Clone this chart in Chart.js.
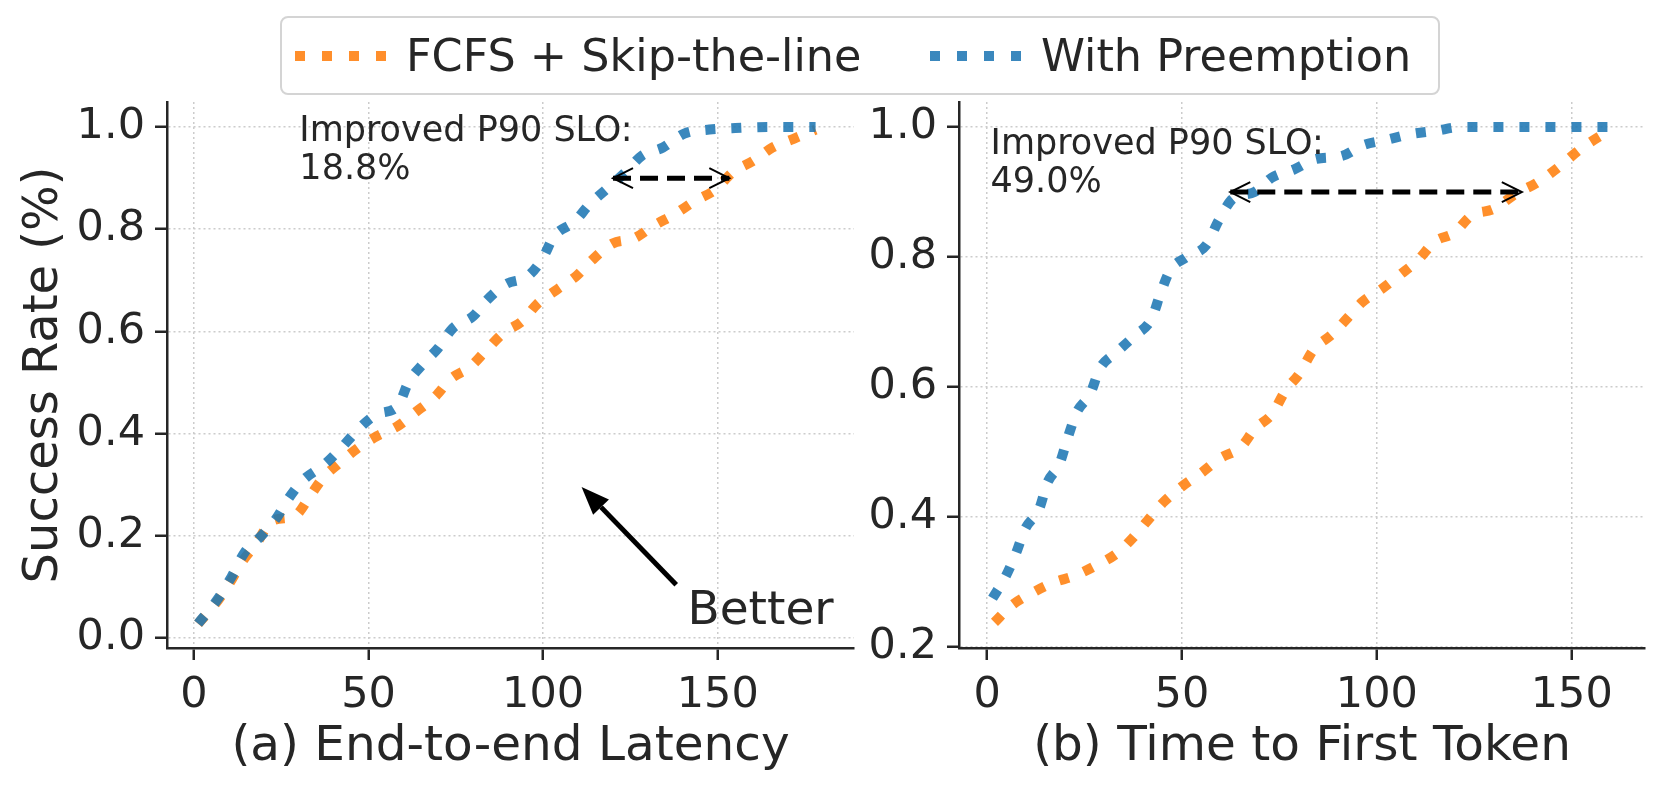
<!DOCTYPE html>
<html>
<head>
<meta charset="utf-8">
<script src="https://cdn.jsdelivr.net/npm/chart.js@4.4.1/dist/chart.umd.min.js"></script>
<style>
  body { margin: 0; width: 1662px; height: 789px; background: #fff; position: relative; overflow: hidden;
         font-family: "DejaVu Sans", sans-serif; color: #262626; }
  #c1 { position: absolute; left: 0; top: 0; }
  #c2 { position: absolute; left: 860px; top: 0; }
  #legend { position: absolute; left: 280px; top: 16px; width: 1160px; height: 79px; box-sizing: border-box;
            border: 2px solid #d4d4d4; border-radius: 8px; background: #fff; }
  .item { position: absolute; top: 0; height: 100%; display: flex; align-items: center; font-size: 44.5px; white-space: nowrap; }
  .swatch { width: 91px; height: 10px; margin-right: 20px; }
</style>
</head>
<body>
<canvas id="c1" width="860" height="789"></canvas>
<canvas id="c2" width="802" height="789"></canvas>
<div id="legend"></div>

<script>
// ================= DATA =================
const seriesNames = ["FCFS + Skip-the-line", "With Preemption"];
const seriesColors = ["rgba(255,127,14,0.88)", "rgba(31,119,180,0.88)"];

// (a) End-to-end latency
const e2eFcfsX = [1.2, 6.6, 10.2, 13.9, 18, 22.3, 28.9, 33.1, 36.8, 41.6, 47, 52.4, 58.4, 63.3, 69.3, 73.5, 79, 83.7, 88.6, 94, 98.2, 104.2, 109.6, 113.9, 119.9, 126, 131.9, 137.3, 143.4, 149.4, 154.2, 160.2, 165.7, 171.7, 178];
const e2eFcfsY = [0.028, 0.071, 0.107, 0.15, 0.186, 0.229, 0.239, 0.276, 0.312, 0.342, 0.372, 0.395, 0.415, 0.441, 0.474, 0.507, 0.53, 0.563, 0.597, 0.62, 0.653, 0.683, 0.709, 0.739, 0.772, 0.782, 0.808, 0.828, 0.855, 0.878, 0.911, 0.934, 0.96, 0.977, 0.995];
const e2ePreemptX = [1.2, 6.6, 10.8, 14.5, 19.3, 23.5, 27, 31.3, 37.3, 42.2, 47, 52.4, 58.4, 61.4, 65.7, 69.9, 74.1, 80, 83.7, 89.2, 95.8, 100, 103, 109, 113.2, 118.7, 123.5, 128.3, 134.3, 140.4, 147.6, 155, 165, 178];
const e2ePreemptY = [0.028, 0.074, 0.12, 0.167, 0.2, 0.233, 0.272, 0.309, 0.339, 0.372, 0.408, 0.438, 0.454, 0.5, 0.537, 0.567, 0.606, 0.63, 0.66, 0.692, 0.709, 0.745, 0.785, 0.815, 0.848, 0.882, 0.911, 0.944, 0.96, 0.987, 0.995, 0.998, 1.0, 1.0];

// (b) Time to first token
const ttftFcfsX = [1.9, 6.3, 11.5, 17, 22.6, 27.8, 33.3, 37.4, 41.1, 45.3, 50, 55, 59.7, 65.2, 68.6, 73.2, 76.4, 80.3, 83.7, 88.5, 92.6, 96.3, 101.5, 106, 110.5, 114.9, 119.8, 124.3, 130, 135.8, 141, 147, 152, 157, 160];
const ttftFcfsY = [0.238, 0.264, 0.283, 0.299, 0.31, 0.325, 0.344, 0.368, 0.394, 0.423, 0.447, 0.468, 0.49, 0.508, 0.535, 0.559, 0.593, 0.622, 0.657, 0.681, 0.707, 0.731, 0.752, 0.773, 0.795, 0.824, 0.837, 0.864, 0.874, 0.898, 0.914, 0.94, 0.965, 0.985, 0.995];
const ttftPreemptX = [1.4, 4.8, 7.4, 9.7, 13.4, 15.5, 18.6, 20.7, 23, 26.5, 28.9, 33.3, 37.7, 42.2, 44.5, 46.9, 51, 56.3, 59.4, 63.1, 68.6, 73, 78.8, 84.5, 90.8, 96.5, 102.3, 108.6, 114.9, 121.7, 130, 140, 150, 160];
const ttftPreemptY = [0.275, 0.309, 0.344, 0.381, 0.413, 0.453, 0.482, 0.522, 0.561, 0.59, 0.628, 0.654, 0.678, 0.705, 0.744, 0.779, 0.799, 0.819, 0.856, 0.89, 0.90, 0.922, 0.935, 0.951, 0.955, 0.972, 0.98, 0.989, 0.994, 1.0, 1.0, 1.0, 1.0, 1.0];

// ticks
const xTicks = [0, 50, 100, 150];
const yTicksLeft = [0, 0.2, 0.4, 0.6, 0.8, 1.0];
const yTicksRight = [0.2, 0.4, 0.6, 0.8, 1.0];

// annotations (data units)
const leftNote = { lines: ["Improved P90 SLO:", "18.8%"], x: 30.2, y: 0.973 };
const rightNote = { lines: ["Improved P90 SLO:", "49.0%"], x: 0.9, y: 0.959 };
const leftSpan = { y: 0.9, from: 120, to: 153.3 };
const rightSpan = { y: 0.9, from: 62.4, to: 137.2 };
const betterArrow = { from: [138.1, 0.104], to: [111.0, 0.2955] };
const betterText = { text: "Better", x: 141.3, y: 0.051 };

// ================= LEGEND =================
const legendLeft = [13, 648];
const legendBox = document.getElementById("legend");
seriesNames.forEach((name, i) => {
  legendBox.innerHTML += `<div class="item" style="left:${legendLeft[i]}px">
    <span class="swatch" style="background:repeating-linear-gradient(to right, ${seriesColors[i]} 0 10px, transparent 10px 27px)"></span>${name}</div>`;
});

// ================= HELPERS =================
const INK = "#262626";
const toPoints = (xs, ys) => xs.map((x, i) => ({ x: x, y: ys[i] }));

function lineDataset(i, xs, ys) {
  return {
    label: seriesNames[i],
    data: toPoints(xs, ys),
    borderColor: seriesColors[i],
    borderWidth: 10,
    borderDash: [10, 16],
    borderCapStyle: "butt",
    pointRadius: 0,
    fill: false,
    tension: 0.4,
    cubicInterpolationMode: "monotone",
    order: i === 1 ? 0 : 1
  };
}

function drawSpanArrow(ctx, xs, ys, span) {
  const x1 = xs.getPixelForValue(span.from);
  const x2 = xs.getPixelForValue(span.to);
  const y = ys.getPixelForValue(span.y);
  ctx.save();
  ctx.strokeStyle = "#000";
  ctx.lineWidth = 5;
  ctx.setLineDash([18, 9]);
  ctx.beginPath(); ctx.moveTo(x1, y); ctx.lineTo(x2, y); ctx.stroke();
  ctx.setLineDash([]);
  ctx.lineWidth = 2;
  ctx.beginPath();
  ctx.moveTo(x1 + 20, y - 10); ctx.lineTo(x1, y); ctx.lineTo(x1 + 20, y + 10);
  ctx.moveTo(x2 - 20, y - 10); ctx.lineTo(x2, y); ctx.lineTo(x2 - 20, y + 10);
  ctx.stroke();
  ctx.restore();
}

function drawNote(ctx, xs, ys, note) {
  ctx.save();
  ctx.fillStyle = INK;
  ctx.font = '35px "DejaVu Sans"';
  ctx.textAlign = "left";
  ctx.textBaseline = "alphabetic";
  const x = xs.getPixelForValue(note.x);
  const y = ys.getPixelForValue(note.y);
  note.lines.forEach((t, k) => ctx.fillText(t, x, y + k * 38));
  ctx.restore();
}

const notesPlugin = {
  id: "notes",
  afterDatasetsDraw(chart) {
    const ctx = chart.ctx;
    const xs = chart.scales.x, ys = chart.scales.y;
    const n = chart.options.plugins.notes;
    drawNote(ctx, xs, ys, n.note);
    drawSpanArrow(ctx, xs, ys, n.span);
    if (n.better) {
      const tx = xs.getPixelForValue(betterArrow.to[0]), ty = ys.getPixelForValue(betterArrow.to[1]);
      const fx = xs.getPixelForValue(betterArrow.from[0]), fy = ys.getPixelForValue(betterArrow.from[1]);
      const ang = Math.atan2(ty - fy, tx - fx);
      const hl = 28, hw = 11;
      const bx = tx - hl * Math.cos(ang), by = ty - hl * Math.sin(ang);
      ctx.save();
      ctx.strokeStyle = "#000"; ctx.fillStyle = "#000";
      ctx.lineWidth = 5;
      ctx.beginPath(); ctx.moveTo(fx, fy); ctx.lineTo(bx, by); ctx.stroke();
      ctx.beginPath();
      ctx.moveTo(tx, ty);
      ctx.lineTo(bx + hw * Math.sin(ang), by - hw * Math.cos(ang));
      ctx.lineTo(bx - hw * Math.sin(ang), by + hw * Math.cos(ang));
      ctx.closePath(); ctx.fill();
      ctx.fillStyle = INK;
      ctx.font = '47px "DejaVu Sans"';
      ctx.textAlign = "left"; ctx.textBaseline = "middle";
      ctx.fillText(betterText.text, xs.getPixelForValue(betterText.x), ys.getPixelForValue(betterText.y));
      ctx.restore();
    }
  }
};

function makeChart(id, cfg) {
  return new Chart(document.getElementById(id), {
    type: "line",
    data: { datasets: cfg.datasets },
    options: {
      responsive: false,
      animation: false,
      devicePixelRatio: 1,
      layout: { padding: { left: 0, right: cfg.padRight, top: 102, bottom: 0 } },
      plugins: {
        legend: { display: false },
        tooltip: { enabled: false },
        notes: cfg.notes
      },
      scales: {
        x: {
          type: "linear",
          min: cfg.xMin, max: cfg.xMax,
          afterBuildTicks: s => { s.ticks = xTicks.map(v => ({ value: v })); },
          afterFit: s => { s.height = 141; },
          grid: { color: "#cccccc", lineWidth: 1.5, tickColor: INK, tickWidth: 2.5, tickLength: 12 },
          border: { color: INK, width: 2.5, dash: [2, 3] },
          ticks: { color: INK, font: { family: "DejaVu Sans", size: 43 }, padding: 10, maxRotation: 0,
                   callback: v => String(v) },
          title: { display: true, text: cfg.xTitle, color: INK, font: { family: "DejaVu Sans", size: 48.5 },
                   padding: { top: 0, bottom: 12 } }
        },
        y: {
          type: "linear",
          min: cfg.yMin, max: cfg.yMax,
          afterBuildTicks: s => { s.ticks = cfg.yTicks.map(v => ({ value: v })); },
          afterFit: s => { s.width = cfg.yWidth; },
          grid: { color: "#cccccc", lineWidth: 1.5, tickColor: INK, tickWidth: 2.5, tickLength: 12 },
          border: { color: INK, width: 2.5, dash: [2, 3] },
          ticks: { color: INK, font: { family: "DejaVu Sans", size: 43 }, padding: 10,
                   callback: v => Number(v).toFixed(1) },
          title: { display: !!cfg.yTitle, text: cfg.yTitle || "", color: INK,
                   font: { family: "DejaVu Sans", size: 48 }, padding: { top: 16, bottom: 0 } }
        }
      }
    },
    plugins: [notesPlugin]
  });
}

// ================= CHARTS =================
makeChart("c1", {
  datasets: [lineDataset(0, e2eFcfsX, e2eFcfsY), lineDataset(1, e2ePreemptX, e2ePreemptY)],
  xMin: -7.7, xMax: 189, yMin: -0.0196, yMax: 1.049,
  yTicks: yTicksLeft, yWidth: 167, padRight: 6,
  xTitle: "(a) End-to-end Latency", yTitle: "Success Rate (%)",
  notes: { note: leftNote, span: leftSpan, better: true }
});

makeChart("c2", {
  datasets: [lineDataset(0, ttftFcfsX, ttftFcfsY), lineDataset(1, ttftPreemptX, ttftPreemptY)],
  xMin: -7.2, xMax: 168.8, yMin: 0.1985, yMax: 1.0385,
  yTicks: yTicksRight, yWidth: 99, padRight: 17,
  xTitle: "(b) Time to First Token", yTitle: null,
  notes: { note: rightNote, span: rightSpan, better: false }
});
</script>
</body>
</html>
